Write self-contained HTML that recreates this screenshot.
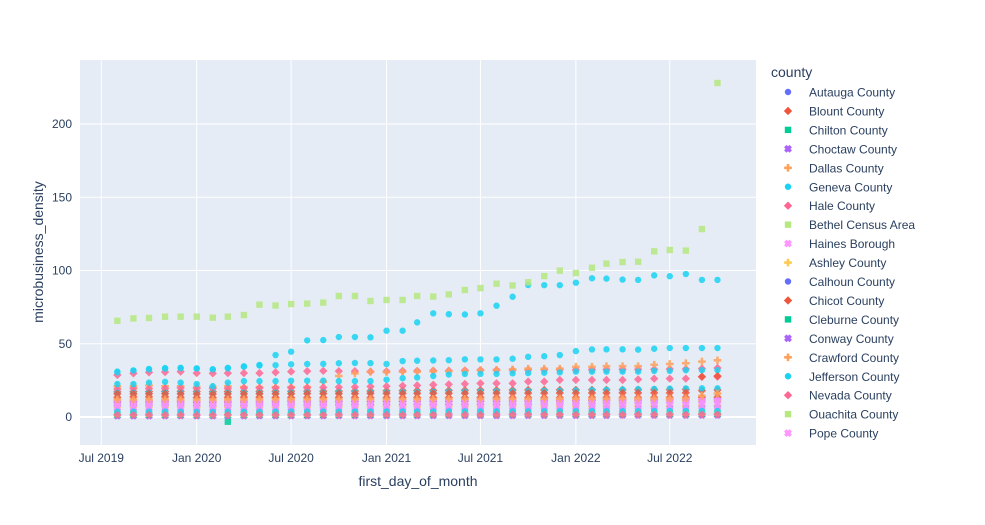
<!DOCTYPE html>
<html><head><meta charset="utf-8">
<style>
body{margin:0;background:#fff;}
svg{display:block;font-family:"Liberation Sans",Arial,sans-serif;}
</style></head>
<body>
<svg id="chart" width="985" height="525" viewBox="0 0 985 525">
<rect x="0" y="0" width="985" height="525" fill="#fff"/>
<rect x="80" y="60" width="676" height="385" fill="#e5ecf6"/>
<g id="grid"></g>
<g id="marks"></g>
<g id="axes"></g>
<g id="legend"></g>
</svg>
<script>
const dates = ["2019-08-01","2019-09-01","2019-10-01","2019-11-01","2019-12-01","2020-01-01","2020-02-01","2020-03-01","2020-04-01","2020-05-01","2020-06-01","2020-07-01","2020-08-01","2020-09-01","2020-10-01","2020-11-01","2020-12-01","2021-01-01","2021-02-01","2021-03-01","2021-04-01","2021-05-01","2021-06-01","2021-07-01","2021-08-01","2021-09-01","2021-10-01","2021-11-01","2021-12-01","2022-01-01","2022-02-01","2022-03-01","2022-04-01","2022-05-01","2022-06-01","2022-07-01","2022-08-01","2022-09-01","2022-10-01"];
const yTicks = [0,50,100,150,200];
const xTickDates = ["2019-07-01","2020-01-01","2020-07-01","2021-01-01","2021-07-01","2022-01-01","2022-07-01"];
const xTickLabels = ["Jul 2019","Jan 2020","Jul 2020","Jan 2021","Jul 2021","Jan 2022","Jul 2022"];
const countyNames = ["Autauga County","Blount County","Chilton County","Choctaw County","Dallas County","Geneva County","Hale County","Bethel Census Area","Haines Borough","Ashley County","Calhoun County","Chicot County","Cleburne County","Conway County","Crawford County","Jefferson County","Nevada County","Ouachita County","Pope County"];

const autauga = [3.0,3.0,3.1,3.0,3.0,2.9,2.9,3.0,3.0,3.1,3.1,3.1,3.2,3.2,3.2,3.2,3.3,3.3,3.3,3.3,3.4,3.4,3.4,3.4,3.5,3.5,3.5,3.5,3.5,3.6,3.6,3.6,3.6,3.7,3.7,3.7,3.7,3.8,3.8];
const blount = [13.5,13.8,13.8,13.8,13.5,13.3,13.3,13.5,13.6,13.6,13.4,13.3,13.3,13.4,13.4,13.3,13.2,13.2,13.2,13.3,13.3,13.2,13.2,13.3,13.3,13.2,13.2,13.2,13.2,13.3,13.4,13.3,13.3,13.3,13.4,13.4,13.4,13.5,13.6];
const chilton = [2.5,2.5,2.6,2.6,2.5,2.4,2.4,-3.2,2.5,2.5,2.6,2.6,2.6,2.7,2.7,2.7,2.7,2.8,2.8,2.8,2.8,2.9,2.9,2.9,2.9,3.0,3.0,3.0,3.0,3.1,3.1,3.1,3.1,3.1,3.2,3.2,3.2,3.2,3.2];
const choctaw = [0.8,0.8,0.8,0.9,0.9,0.8,0.8,0.8,0.8,0.9,0.9,0.9,0.9,0.9,1.0,1.0,1.0,1.0,1.0,1.0,1.1,1.1,1.1,1.1,1.1,1.1,1.2,1.2,1.2,1.2,1.2,1.2,1.3,1.3,1.3,1.3,1.3,1.3,1.3];
const dallas = [10.5,10.6,10.6,10.7,10.6,10.4,10.4,10.5,10.6,10.6,10.7,10.7,10.8,10.8,10.8,10.9,10.9,10.9,11.0,11.0,11.0,11.1,11.1,11.1,11.2,11.2,11.2,11.3,11.3,11.3,11.4,11.4,11.4,11.5,11.5,11.5,11.6,11.6,11.7];
const geneva = [31,31.6,32.8,33.4,33.6,33,32.3,33.6,34.4,35.5,42.3,44.6,52.3,52.5,54.6,54.6,54.4,58.9,58.9,64.6,70.8,70.2,70,70.8,76,82.1,90.1,90,90,91.7,94.7,94.5,93.8,93.6,96.7,96.1,97.6,93.6,93.6];
const hale = [28.7,29.8,30.5,30.7,31,30,29.8,30,30,30,30.5,31,31.3,31.5,31.3,31.3,31,31.2,31.5,31.5,31.6,31.6,31.8,32,32,32,32.2,32.2,32.3,32.3,32.4,32.4,32.5,32.5,32.6,32.8,32.8,33,33.5];
const bethel = [65.7,67.3,67.6,68.5,68.5,68.5,67.8,68.5,69.6,76.7,76.1,77.1,77.4,78.1,82.6,82.6,79.2,79.9,79.9,82.6,82.2,83.7,86.7,88,91,89.8,92,96.2,99.9,98.3,101.9,104.7,105.8,106,113.1,114,113.6,128.3,228];
const haines = [8.2,8.3,8.3,8.4,8.3,8.1,8.1,8.2,8.2,8.3,8.3,8.3,8.4,8.4,8.4,8.4,8.5,8.5,8.5,8.5,8.6,8.6,8.6,8.6,8.7,8.7,8.7,8.7,8.8,8.8,8.8,8.8,8.9,8.9,8.9,8.9,9.0,9.0,9.0];
const ashley = [7.0,7.0,7.1,7.1,7.0,6.9,6.9,7.0,7.0,7.1,7.1,7.1,7.2,7.2,7.2,7.2,7.3,7.3,7.3,7.3,7.4,7.4,7.4,7.4,7.5,7.5,7.5,7.5,7.6,7.6,7.6,7.6,7.7,7.7,7.7,7.7,7.8,7.8,7.8];
const calhoun = [5.0,5.0,5.1,5.1,5.0,4.9,4.9,5.0,5.0,5.1,5.1,5.1,5.2,5.2,5.2,5.2,5.3,5.3,5.3,5.3,5.4,5.4,5.5,5.5,5.6,5.6,5.7,5.7,5.8,5.9,6.0,6.1,6.2,6.3,6.4,6.5,6.6,6.7,6.8];
const chicot = [17.2,17.3,17.4,17.5,17.5,17.4,17.3,17.4,17.5,17.5,17.6,17.6,17.7,17.7,17.7,17.8,17.8,17.9,18,18.1,18.2,18.2,18.3,18.4,18.4,18.4,18.5,18.5,18.5,18.6,18.6,18.6,18.6,18.7,18.7,18.7,18.8,18.0,18.4];
const cleburne = [1.5,1.5,1.6,1.6,1.5,1.4,1.4,1.5,1.5,1.6,1.6,1.6,1.6,1.7,1.7,1.7,1.7,1.8,1.8,1.8,1.8,1.8,1.9,1.9,1.9,1.9,1.9,2.0,2.0,2.0,2.0,2.0,2.1,2.1,2.1,2.1,2.1,2.2,2.2];
const conway = [9.2,9.3,9.3,9.4,9.3,9.1,9.1,9.2,9.2,9.3,9.3,9.4,9.4,9.5,9.5,9.5,9.6,9.6,9.6,9.7,9.7,9.7,9.8,9.8,9.8,9.9,9.9,10.0,10.1,10.2,10.3,10.4,10.5,10.6,10.7,10.8,10.9,11.0,11.3];
const crawford = [20.9,21,21.5,21,21,20.5,20.5,21,20.5,20.5,20.5,20.5,20.5,24.1,28,29.8,30.9,30.7,31,31,31.3,31.3,31.5,32,32.2,32.5,33,33,33,34.3,34.3,34.7,34.7,34.7,35.7,36.2,36.7,37.8,38.7];
const jefferson = [30.5,31.8,32.5,33,33.3,33.2,32.6,33.2,34.6,35.2,35.4,36,36.2,36.3,36.7,36.9,36.8,36.2,38.2,38.4,38.6,38.8,39.4,39.3,39.3,39.8,41.1,41.5,42.3,45,46.1,46.2,46.2,46,46.6,47.1,47.1,47.1,47.1];
const nevada = [19,19.5,19.5,19.5,19.8,19.5,19.5,19.5,19.8,19.8,19.8,20,20,20.2,20.4,20.5,20.8,21,21.3,21.6,22,22.3,22.6,23,23,23,24.2,24.2,25.3,25.3,25.3,25.3,25.3,25.7,26.2,26.2,26.2,27.5,27.5];
const ouachita = [2.0,2.0,2.1,2.1,2.0,1.9,1.9,2.0,2.0,2.1,2.1,2.1,2.2,2.2,2.2,2.2,2.3,2.3,2.3,2.3,2.4,2.4,2.4,2.4,2.5,2.5,2.5,2.5,2.6,2.6,2.6,2.6,2.7,2.7,2.7,2.7,2.8,2.8,2.8];
const pope = [10.0,10.1,10.1,10.2,10.1,9.9,9.9,10.0,10.0,10.1,10.1,10.1,10.2,10.2,10.2,10.3,10.3,10.3,10.4,10.4,10.4,10.5,10.5,10.5,10.6,10.6,10.6,10.7,10.7,10.7,10.8,10.8,10.8,10.9,10.9,10.9,11.0,11.0,11.0];
/* additional counties beyond the visible legend */
const extraCyanA = [22.5,22.5,23.5,24,23.5,22.5,21,23.5,24.5,24.5,24.5,24.8,24.8,24.8,24.5,24.5,24.5,25.5,26.5,27,28,29,29.5,29.5,29.5,29.8,30,30.2,30.5,31,31,31,31,31,31.5,31.5,32,32,32];
const extraCyanB = [16.5,16.5,16.6,16.6,16.5,16.4,16.4,16.5,16.6,16.6,16.7,16.7,16.8,16.8,16.9,16.9,17.0,17.0,17.1,17.1,17.2,17.3,17.4,17.5,17.6,17.7,17.8,17.9,18.0,18.2,18.4,18.6,18.8,19.0,19.2,19.4,19.5,19.6,19.6];
const extraCyanC = [3.6,3.6,3.6,3.7,3.6,3.5,3.5,3.6,3.6,3.6,3.7,3.7,3.7,3.7,3.7,3.8,3.8,3.8,3.8,3.8,3.8,3.9,3.9,3.9,3.9,3.9,3.9,4.0,4.0,4.0,4.0,4.0,4.0,4.0,4.1,4.1,4.1,4.1,4.1];
const extraPink = [1.4,1.4,1.4,1.4,1.4,1.3,1.3,1.4,1.4,1.4,1.4,1.4,1.4,1.4,1.5,1.5,1.5,1.5,1.5,1.5,1.5,1.5,1.5,1.5,1.5,1.6,1.6,1.6,1.6,1.6,1.6,1.6,1.6,1.6,1.6,1.6,1.6,1.7,1.7];
const extraPinkX = [6.2,6.2,6.3,6.3,6.2,6.1,6.1,6.2,6.2,6.3,6.3,6.3,6.4,6.4,6.4,6.4,6.5,6.5,6.5,6.5,6.6,6.6,6.6,6.6,6.7,6.7,6.7,6.7,6.8,6.8,6.8,6.8,6.9,6.9,6.9,6.9,7.0,7.0,7.0];
const extraRed = [15.8,15.8,15.9,15.9,15.8,15.7,15.7,15.8,15.8,15.9,15.9,15.9,16.0,16.0,16.0,16.0,16.1,16.1,16.1,16.1,16.2,16.2,16.2,16.2,16.3,16.3,16.3,16.3,16.4,16.4,16.4,16.4,16.5,16.5,16.5,16.5,16.6,27.5,28.0];
const extraOrange = [12.0,12.0,12.1,12.1,12.0,11.9,11.9,12.0,12.0,12.1,12.1,12.1,12.2,12.2,12.2,12.2,12.3,12.3,12.3,12.3,12.4,12.4,12.4,12.4,12.5,12.5,12.5,12.5,12.6,12.6,12.6,12.6,12.7,12.7,12.7,12.7,12.8,14.5,16.0];

const seriesData = [autauga,blount,chilton,choctaw,dallas,geneva,hale,bethel,haines,ashley,calhoun,chicot,cleburne,conway,crawford,jefferson,nevada,ouachita,pope];
const colors = ["#636efa","#EF553B","#00cc96","#ab63fa","#FFA15A","#19d3f3","#FF6692","#B6E880","#FF97FF","#FECB52","#636efa","#EF553B","#00cc96","#ab63fa","#FFA15A","#19d3f3","#FF6692","#B6E880","#FF97FF"];
const symbols = ["circle","diamond","square","x","cross","circle","diamond","square","x","cross","circle","diamond","square","x","cross","circle","diamond","square","x"];
const extraSeries = [extraCyanA,extraCyanB,extraRed,extraOrange,extraPinkX,extraCyanC,extraPink];
const extraColors = ["#19d3f3","#19d3f3","#EF553B","#FFA15A","#FF97FF","#19d3f3","#FF6692"];
const extraSymbols = ["circle","circle","diamond","cross","x","circle","diamond"];

const NS = "http://www.w3.org/2000/svg";
const PL=80, PR=756, PT=60, PB=445;
const Y0=-19.1, Y1=243.7;
const T0 = Date.UTC(2019,4,21);
function xs(d){const t=Date.parse(d+"T00:00:00Z");const perDay=0.5187;return PL+(t-T0)/86400000*perDay;}
function ys(v){return PB-(v-Y0)/(Y1-Y0)*(PB-PT);}
function mk(tag,attrs,parent){const e=document.createElementNS(NS,tag);for(const k in attrs)e.setAttribute(k,attrs[k]);parent.appendChild(e);return e;}
function symPath(s,r){
  if(s==="circle")return `M${r},0A${r},${r} 0 1,1 0,-${r}A${r},${r} 0 0,1 ${r},0Z`;
  if(s==="square")return `M${r},${r}H-${r}V-${r}H${r}Z`;
  if(s==="diamond"){const d=r*1.3;return `M${d},0L0,${d}L-${d},0L0,-${d}Z`;}
  if(s==="cross"){const a=r*0.4,b=r*1.2;return `M${b},${a}H${a}V${b}H-${a}V${a}H-${b}V-${a}H-${a}V-${b}H${a}V-${a}H${b}Z`;}
  const a=r*0.8/Math.SQRT2*1.5, b=r*0.4/Math.SQRT2*1.5*0.9, c=a+b;
  return `M${c},${a-b}L${b*2},0L${c},${b-a}L${a-b},-${c}L0,-${b*2}L${b-a},-${c}L-${c},${b-a}L-${b*2},0L-${c},${a-b}L${b-a},${c}L0,${b*2}L${a-b},${c}Z`;
}
const grid=document.getElementById('grid'), marks=document.getElementById('marks'), axes=document.getElementById('axes'), legend=document.getElementById('legend');

yTicks.forEach(v=>{
  const l=mk('line',{x1:PL,x2:PR,y1:ys(v),y2:ys(v),stroke:'#fff','stroke-width':v===0?2:1},grid);
  
  
  const t=mk('text',{x:PL-8,y:ys(v)+4,'text-anchor':'end','font-size':12,fill:'#2a3f5f'},axes);
  t.textContent=v;
  
  
});
xTickDates.forEach((d,i)=>{
  const l=mk('line',{x1:xs(d),x2:xs(d),y1:PT,y2:PB,stroke:'#fff','stroke-width':1},grid);
  
  
  const t=mk('text',{x:xs(d),y:462,'text-anchor':'middle','font-size':12,fill:'#2a3f5f'},axes);
  t.textContent=xTickLabels[i];
  
  
});
const xt=mk('text',{x:418,y:486,'text-anchor':'middle','font-size':14,fill:'#2a3f5f'},axes);
xt.textContent='first_day_of_month';


const yt=mk('text',{x:0,y:0,'text-anchor':'middle','font-size':14,fill:'#2a3f5f',transform:'translate(43,252) rotate(-90)'},axes);
yt.textContent='microbusiness_density';



function drawSeries(vals,color,sym,name){
  const g=mk('g',{},marks);
  
  
  vals.forEach((v,i)=>{
    const p=mk('path',{d:symPath(sym,3.2),transform:`translate(${xs(dates[i]).toFixed(2)},${ys(v).toFixed(2)})`,fill:color,opacity:0.85},g);
    
    
  });
}
seriesData.forEach((s,i)=>drawSeries(s,colors[i],symbols[i],countyNames[i].toLowerCase().replace(/ /g,'-')));
extraSeries.forEach((s,i)=>drawSeries(s,extraColors[i],extraSymbols[i],'other-county-'+(i+1)));

const lt=mk('text',{x:771,y:77,'font-size':14,fill:'#2a3f5f'},legend);
lt.textContent='county';


countyNames.forEach((n,i)=>{
  const y=92+i*18.95;
  const g=mk('g',{},legend);
  
  
  mk('path',{d:symPath(symbols[i],3.2),transform:`translate(788,${y})`,fill:colors[i]},g);
  const t=mk('text',{x:809,y:y+4.5,'font-size':12,fill:'#2a3f5f'},g);
  t.textContent=n;
});
</script>
</body></html>
